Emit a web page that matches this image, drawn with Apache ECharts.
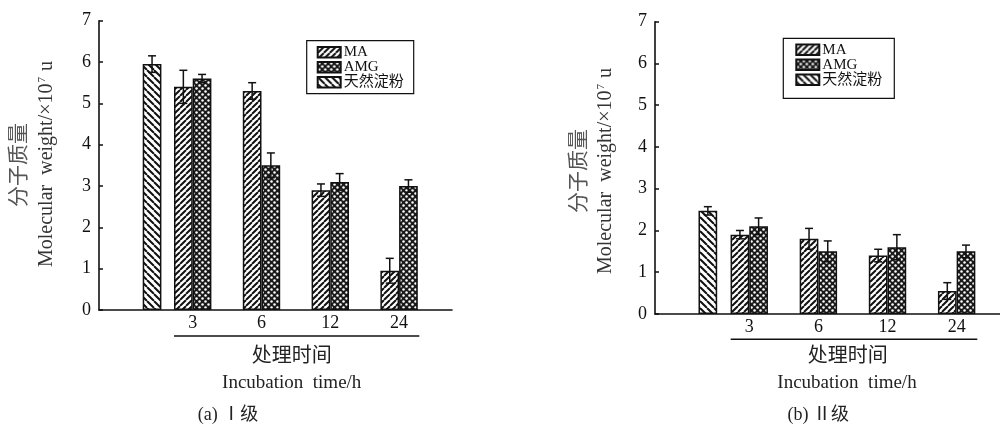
<!DOCTYPE html>
<html>
<head>
<meta charset="utf-8">
<script src="https://cdn.jsdelivr.net/npm/echarts@6/dist/echarts.min.js"></script>
<style>
html,body{margin:0;padding:0;background:#fff;}
#chart{width:1000px;height:428px;}
</style>
</head>
<body>
<div id="chart"></div>
<script>
// ---------------- DATA ----------------
const categories = ['3', '6', '12', '24'];
const nativeCategory = ['天然淀粉'];
const seriesNames = ['MA', 'AMG', '天然淀粉'];
const yTicks = [0, 1, 2, 3, 4, 5, 6, 7];

// Panel (a) grade I
const maA = [5.4, 5.3, 2.9, 0.95];
const maAErr = [0.4, 0.2, 0.15, 0.3];
const amgA = [5.6, 3.5, 3.1, 3.0];
const amgAErr = [0.1, 0.3, 0.2, 0.15];
const nativeA = [5.95];
const nativeAErr = [0.2];

// Panel (b) grade II
const maB = [1.9, 1.8, 1.4, 0.55];
const maBErr = [0.1, 0.25, 0.15, 0.2];
const amgB = [2.1, 1.5, 1.6, 1.5];
const amgBErr = [0.2, 0.25, 0.3, 0.15];
const nativeB = [2.47];
const nativeBErr = [0.1];

// texts
const xTitleCn = '处理时间';
const xTitleEn = 'Incubation  time/h';
const yTitleCn = '分子质量';
const captionA = '(a) Ⅰ级';
const captionB = '(b) Ⅱ级';

// ---------------- PATTERNS ----------------
function makeCanvas(w, h, draw) {
  const c = document.createElement('canvas');
  c.width = w; c.height = h;
  const ctx = c.getContext('2d');
  ctx.fillStyle = '#fff';
  ctx.fillRect(0, 0, w, h);
  draw(ctx, w, h);
  return c;
}
const patMA = makeCanvas(6, 6, (ctx, w, h) => {
  ctx.strokeStyle = '#111'; ctx.lineWidth = 2;
  ctx.beginPath();
  for (let k = -1; k <= 1; k++) { ctx.moveTo(k * w, h); ctx.lineTo(k * w + w, 0); }
  ctx.stroke();
});
const patNative = makeCanvas(7, 7, (ctx, w, h) => {
  ctx.strokeStyle = '#111'; ctx.lineWidth = 2;
  ctx.beginPath();
  for (let k = -1; k <= 1; k++) { ctx.moveTo(k * w, 0); ctx.lineTo(k * w + w, h); }
  ctx.stroke();
});
const patAMG = makeCanvas(6, 6, (ctx, w, h) => {
  ctx.fillStyle = '#1a1a1a'; ctx.fillRect(0, 0, w, h);
  ctx.fillStyle = '#fff';
  [[1.5, 1.5], [4.5, 4.5]].forEach(p => { ctx.beginPath(); ctx.arc(p[0], p[1], 1.25, 0, Math.PI * 2); ctx.fill(); });
});
const fills = {
  MA: { image: patMA, repeat: 'repeat' },
  AMG: { image: patAMG, repeat: 'repeat' },
  '天然淀粉': { image: patNative, repeat: 'repeat' }
};

// ---------------- LAYOUT ----------------
const FONT = '"Liberation Serif", "Noto Sans CJK SC", serif';
const BAR_W = 18.7;
const panels = [
  {
    axisLeft: 99, axisRight: 548, top: 20.7, bottom: 118,
    barLeft: 158.3, barWidth: 275.2, nativeLeft: 142.7,
    ma: maA, maErr: maAErr, amg: amgA, amgErr: amgAErr, nat: nativeA, natErr: nativeAErr,
    legend: { left: 306.7, top: 40.7, padding: [4, 10, 4, 10] },
    underline: [174, 419.3, 336],
    xCn: [291.7, 356.7], xEn: [291.7, 383.3], cap: [228, 415], cap2: captionA,
    yCn: [19, 165], yEn: [46.7, 164]
  },
  {
    axisLeft: 655, axisRight: 0, top: 21.7, bottom: 114,
    barLeft: 714.7, barWidth: 276.5, nativeLeft: 698.5,
    ma: maB, maErr: maBErr, amg: amgB, amgErr: amgBErr, nat: nativeB, natErr: nativeBErr,
    legend: { left: 783.3, top: 38.3, padding: [4, 12, 11, 12] },
    underline: [730.7, 977.3, 339.3],
    xCn: [847.7, 356.7], xEn: [847, 383.3], cap: [818.3, 415], cap2: captionB,
    yCn: [579.7, 171], yEn: [606, 171]
  }
];

const option = {
  animation: false,
  backgroundColor: '#fff',
  textStyle: { fontFamily: FONT },
  grid: [], xAxis: [], yAxis: [], series: [], legend: [], graphic: []
};

function errSeries(name, axisIdx, vals, errs, offset) {
  return {
    type: 'custom', name: name + ' err',
    xAxisIndex: axisIdx, yAxisIndex: axisIdx, z: 10,
    data: vals.map((v, i) => [i, v, errs[i]]),
    encode: { x: 0, y: 1 },
    renderItem: (params, api) => {
      const i = api.value(0), v = api.value(1), e = api.value(2);
      const t = api.coord([i, v + e]);
      const b = api.coord([i, v - e]);
      const x = t[0] + offset, cap = 4;
      const st = { stroke: '#111', lineWidth: 1.5 };
      return {
        type: 'group', children: [
          { type: 'line', shape: { x1: x, y1: t[1], x2: x, y2: b[1] }, style: st },
          { type: 'line', shape: { x1: x - cap, y1: t[1], x2: x + cap, y2: t[1] }, style: st },
          { type: 'line', shape: { x1: x - cap, y1: b[1], x2: x + cap, y2: b[1] }, style: st }
        ]
      };
    }
  };
}

panels.forEach((p, pi) => {
  const base = pi * 3;
  const h = 428 - p.top - p.bottom;
  option.grid.push({ left: p.axisLeft, right: p.axisRight, top: p.top, height: h });
  option.grid.push({ left: p.barLeft, width: p.barWidth, top: p.top, height: h });
  option.grid.push({ left: p.nativeLeft, width: BAR_W, top: p.top, height: h });

  option.xAxis.push({
    gridIndex: base, type: 'value', min: 0, max: 1,
    axisLine: { show: true, onZero: false, lineStyle: { color: '#111', width: 1.6 } },
    axisTick: { show: false }, axisLabel: { show: false }, splitLine: { show: false }
  });
  option.yAxis.push({
    gridIndex: base, type: 'value', min: yTicks[0], max: yTicks[yTicks.length - 1], interval: 1,
    axisLine: { show: true, lineStyle: { color: '#111', width: 1.6 } },
    axisTick: { show: true, inside: true, length: 4, lineStyle: { color: '#111', width: 1.5 } },
    axisLabel: { fontSize: 18, color: '#111', margin: 8, fontFamily: FONT },
    splitLine: { show: false }
  });
  option.xAxis.push({
    gridIndex: base + 1, type: 'category', data: categories,
    axisLine: { show: false }, axisTick: { show: false },
    axisLabel: { fontSize: 18, color: '#111', margin: 4, fontFamily: FONT }
  });
  option.yAxis.push({ gridIndex: base + 1, type: 'value', min: 0, max: 7, show: false });
  option.xAxis.push({ gridIndex: base + 2, type: 'category', data: nativeCategory, show: false });
  option.yAxis.push({ gridIndex: base + 2, type: 'value', min: 0, max: 7, show: false });

  const itemStyle = n => ({ color: fills[n], borderColor: '#111', borderWidth: 1.5 });
  option.series.push({
    type: 'bar', name: 'MA', xAxisIndex: base + 1, yAxisIndex: base + 1,
    data: p.ma, barWidth: BAR_W, barGap: '0%', itemStyle: itemStyle('MA')
  });
  option.series.push({
    type: 'bar', name: 'AMG', xAxisIndex: base + 1, yAxisIndex: base + 1,
    data: p.amg, barWidth: BAR_W, barGap: '0%', itemStyle: itemStyle('AMG')
  });
  option.series.push({
    type: 'bar', name: '天然淀粉', xAxisIndex: base + 2, yAxisIndex: base + 2,
    data: p.nat, barWidth: BAR_W, itemStyle: itemStyle('天然淀粉')
  });
  option.series.push(errSeries('MA', base + 1, p.ma, p.maErr, -BAR_W / 2));
  option.series.push(errSeries('AMG', base + 1, p.amg, p.amgErr, BAR_W / 2));
  option.series.push(errSeries('天然淀粉', base + 2, p.nat, p.natErr, 0));

  option.legend.push({
    left: p.legend.left, top: p.legend.top, orient: 'vertical',
    data: seriesNames, icon: 'rect', selectedMode: false,
    itemWidth: 23, itemHeight: 10.5, itemGap: 0,
    padding: p.legend.padding,
    borderColor: '#111', borderWidth: 1.2,
    textStyle: { fontSize: 15, color: '#111', fontFamily: FONT, lineHeight: 14, padding: [0, 0, 0, -2] }
  });

  option.graphic.push(
    { type: 'line', shape: { x1: p.underline[0], y1: p.underline[2], x2: p.underline[1], y2: p.underline[2] },
      style: { stroke: '#111', lineWidth: 1.5 } },
    { type: 'text', x: p.xCn[0], y: p.xCn[1],
      style: { text: xTitleCn, fontSize: 20, fill: '#222', align: 'center', verticalAlign: 'middle', fontFamily: FONT } },
    { type: 'text', x: p.xEn[0], y: p.xEn[1],
      style: { text: xTitleEn, fontSize: 19, fill: '#222', align: 'center', verticalAlign: 'middle', fontFamily: FONT } },
    { type: 'text', x: p.cap[0], y: p.cap[1],
      style: { text: p.cap2, fontSize: 18, fill: '#222', align: 'center', verticalAlign: 'middle', fontFamily: FONT } },
    { type: 'text', x: p.yCn[0], y: p.yCn[1], rotation: Math.PI / 2,
      style: { text: yTitleCn, fontSize: 21, fill: '#555', align: 'center', verticalAlign: 'middle', fontFamily: FONT } },
    { type: 'text', x: p.yEn[0], y: p.yEn[1], rotation: Math.PI / 2,
      style: {
        text: '{b|Molecular  weight/×10}{s|7}{b| u}', align: 'center', verticalAlign: 'middle',
        rich: {
          b: { fontSize: 20, fill: '#333', fontFamily: FONT },
          s: { fontSize: 11, fill: '#333', fontFamily: FONT, padding: [0, 1, 9, 1] }
        }
      } }
  );
});

const chart = echarts.init(document.getElementById('chart'), null, { renderer: 'canvas' });
chart.setOption(option);
</script>
</body>
</html>
